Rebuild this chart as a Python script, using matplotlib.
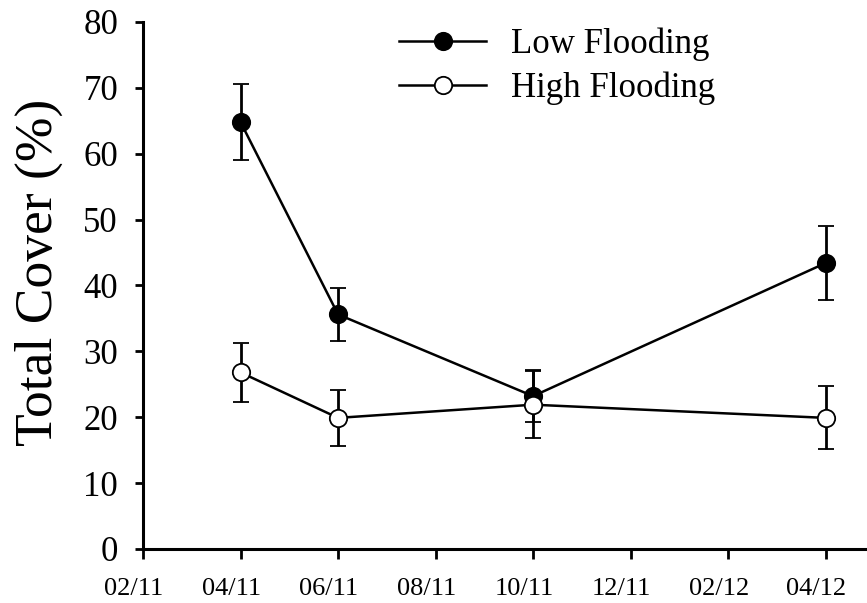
import matplotlib
matplotlib.use("Agg")
from matplotlib import pyplot as plt
from matplotlib.transforms import ScaledTranslation

plt.rcParams['font.family'] = ['Liberation Serif', 'DejaVu Serif']

# months since Feb 2011
tick_pos = [0, 2, 4, 6, 8, 10, 12, 14]
tick_labels = ["02/11", "04/11", "06/11", "08/11", "10/11", "12/11", "02/12", "04/12"]
sample_months = [2, 4, 8, 14]

low_cover = [64.8, 35.6, 23.2, 43.4]
low_err = [5.8, 4.0, 4.0, 5.6]
high_cover = [26.8, 19.9, 21.9, 19.9]
high_err = [4.5, 4.2, 5.1, 4.8]

fig = plt.figure(figsize=(8.67, 6.03), dpi=100)
ax = fig.add_axes([0.165, 0.0896, 0.835, 0.874])

ax.errorbar(sample_months, low_cover, yerr=low_err, color='black', lw=1.8,
            elinewidth=2.0, capsize=5.5, capthick=2.0, marker='o', ms=12.5,
            mfc='black', mec='black', mew=1.3, label='Low Flooding', zorder=3)
ax.errorbar(sample_months, high_cover, yerr=high_err, color='black', lw=1.8,
            elinewidth=2.0, capsize=5.5, capthick=2.0, marker='o', ms=12.5,
            mfc='white', mec='black', mew=1.3, label='High Flooding', zorder=4)

ax.set_xlim(0, 14.85)
ax.set_ylim(0, 80)
ax.set_xticks(tick_pos)
ax.set_xticklabels(tick_labels, fontsize=19)
ax.set_yticks(range(0, 81, 10))
ax.tick_params(axis='y', labelsize=25, direction='out', length=6, width=2, pad=12)
ax.tick_params(axis='x', direction='out', length=7, width=2, pad=14)
ax.set_ylabel("Total Cover (%)", fontsize=38.5)
ax.yaxis.set_label_coords(-0.111, 0.525)

# date labels sit a little left of their ticks
shift = ScaledTranslation(-9 / 100, 0, fig.dpi_scale_trans)
for lab in ax.get_xticklabels():
    lab.set_transform(lab.get_transform() + shift)

for s in ['top', 'right']:
    ax.spines[s].set_visible(False)
for s in ['left', 'bottom']:
    ax.spines[s].set_linewidth(2.2)

h, l = ax.get_legend_handles_labels()
h = [x[0] for x in h]
ax.legend(h, l, loc='upper left', bbox_to_anchor=(0.311, 1.048), frameon=False,
          fontsize=25, handlelength=2.5, handletextpad=0.7, labelspacing=0.3)

fig.savefig("out.png", dpi=100)
